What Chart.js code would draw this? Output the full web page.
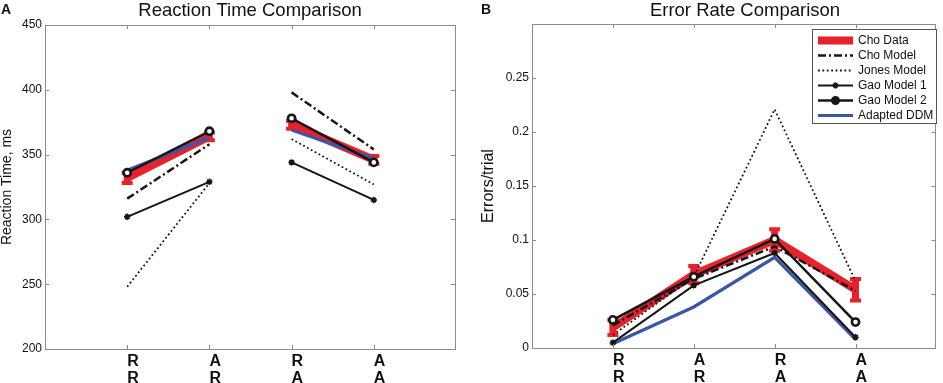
<!DOCTYPE html>
<html><head><meta charset="utf-8">
<script src="https://cdn.jsdelivr.net/npm/chart.js@4.4.1/dist/chart.umd.min.js"></script>
<style>
html,body{margin:0;padding:0;background:#fff;}
#wrap{position:relative;width:943px;height:383px;overflow:hidden;}
#cA{position:absolute;left:0;top:0;}
#cB{position:absolute;left:470px;top:0;}
</style></head><body>
<div id="wrap"><canvas id="cA" width="470" height="383"></canvas><canvas id="cB" width="473" height="383"></canvas></div>
<script>
// ---- data ----
const categories = ['RR', 'AR', 'RA', 'AA'];
const seriesNames = ['Cho Data', 'Cho Model', 'Jones Model', 'Gao Model 1', 'Gao Model 2', 'Adapted DDM'];

// Panel A: reaction time (ms)
const rtChoData    = [332, 364, 373, 346];
const rtChoDataErr = [4, 3, 3, 3];
const rtChoModel   = [316, 358, 398, 354];
const rtJones      = [248, 328, 362, 327];
const rtGao1       = [302, 329, 344, 315];
const rtGao2       = [336, 368, 378, 344];
const rtDDM        = [338, 363, 369, 347];
const rtTicks      = [200, 250, 300, 350, 400, 450];

// Panel B: error rate (errors/trial)
const erChoData    = [0.019, 0.068, 0.100, 0.054];
const erChoDataErr = [0.007, 0.008, 0.010, 0.010];
const erChoModel   = [0.021, 0.064, 0.094, 0.053];
const erJones      = [0.012, 0.066, 0.221, 0.062];
const erGao1       = [0.005, 0.058, 0.088, 0.010];
const erGao2       = [0.026, 0.066, 0.101, 0.024];
const erDDM        = [0.004, 0.038, 0.084, 0.008];
const erTicks      = [0, 0.05, 0.1, 0.15, 0.2, 0.25];

// ---- styling ----
const RED = '#e8212b', BLUE = '#3b56a6', BLK = '#161616', AXC = '#8c8c8c';
const FONT = "'Liberation Sans', Arial, Helvetica, sans-serif";
Chart.defaults.font.family = FONT;
Chart.defaults.color = '#111';

function pts(arr) { return arr.map((v, i) => ({ x: i + 1, y: v })); }

function makeDatasets(series, gap) {
  const seg = gap ? { borderColor: c => (c.p0DataIndex === 1 ? 'rgba(0,0,0,0)' : undefined) } : undefined;
  const base = { fill: false, tension: 0, segment: seg, borderCapStyle: 'butt', borderJoinStyle: 'miter' };
  return [
    Object.assign({}, base, { label: seriesNames[0], data: pts(series[0]), borderColor: RED, borderWidth: 8, pointRadius: 0, order: 6 }),
    Object.assign({}, base, { label: seriesNames[1], data: pts(series[1]), borderColor: BLK, borderWidth: 2.5, borderDash: [8, 3, 2, 3], pointRadius: 0, order: 2 }),
    Object.assign({}, base, { label: seriesNames[2], data: pts(series[2]), borderColor: BLK, borderWidth: 1.8, borderDash: [1.8, 2.6], pointRadius: 0, order: 5 }),
    Object.assign({}, base, { label: seriesNames[3], data: pts(series[3]), borderColor: BLK, borderWidth: 2, pointStyle: 'star', pointRadius: 3.2, pointBorderWidth: 1.6, pointBorderColor: BLK, pointBackgroundColor: BLK, order: 3 }),
    Object.assign({}, base, { label: seriesNames[4], data: pts(series[4]), borderColor: BLK, borderWidth: 2.5, pointStyle: 'circle', pointRadius: 3.6, pointBorderWidth: 2.6, pointBorderColor: BLK, pointBackgroundColor: '#fff', order: 1 }),
    Object.assign({}, base, { label: seriesNames[5], data: pts(series[5]), borderColor: BLUE, borderWidth: 3.2, pointRadius: 0, order: 4 })
  ];
}

const deco = {
  id: 'deco',
  beforeDatasetsDraw(chart, args, o) {
    const ctx = chart.ctx, xs = chart.scales.x, ys = chart.scales.y;
    const ds = chart.data.datasets[0];
    ctx.save();
    ctx.strokeStyle = RED;
    ds.data.forEach((p, i) => {
      const x = xs.getPixelForValue(p.x);
      const y1 = ys.getPixelForValue(p.y - o.err[i]);
      const y2 = ys.getPixelForValue(p.y + o.err[i]);
      ctx.lineWidth = 7;
      ctx.beginPath(); ctx.moveTo(x, y1); ctx.lineTo(x, y2); ctx.stroke();
      ctx.lineWidth = 4;
      ctx.beginPath();
      ctx.moveTo(x - 5.5, y1); ctx.lineTo(x + 5.5, y1);
      ctx.moveTo(x - 5.5, y2); ctx.lineTo(x + 5.5, y2);
      ctx.stroke();
    });
    ctx.restore();
  },
  afterDraw(chart, args, o) {
    const ctx = chart.ctx, a = chart.chartArea, xs = chart.scales.x, ys = chart.scales.y;
    ctx.save();
    // axes box
    ctx.strokeStyle = AXC; ctx.lineWidth = 1;
    ctx.strokeRect(Math.round(a.left) + 0.5, Math.round(a.top) + 0.5, Math.round(a.right - a.left) - 1, Math.round(a.bottom - a.top));
    // inward ticks
    const L = 4;
    ctx.beginPath();
    xs.ticks.forEach(t => {
      const x = Math.round(xs.getPixelForValue(t.value)) + 0.5;
      ctx.moveTo(x, a.bottom); ctx.lineTo(x, a.bottom - L);
      ctx.moveTo(x, a.top); ctx.lineTo(x, a.top + L);
    });
    ys.ticks.forEach(t => {
      const y = Math.round(ys.getPixelForValue(t.value)) + 0.5;
      ctx.moveTo(a.left, y); ctx.lineTo(a.left + L, y);
      ctx.moveTo(a.right - 1, y); ctx.lineTo(a.right - 1 - L, y);
    });
    ctx.stroke();
    // title and panel letter
    ctx.fillStyle = '#111';
    ctx.textBaseline = 'alphabetic';
    ctx.font = '18.5px ' + FONT; ctx.textAlign = 'center';
    ctx.fillText(o.title, o.titleX, 16);
    ctx.font = 'bold 14px ' + FONT; ctx.textAlign = 'left';
    ctx.fillText(o.letter, o.letterX, 14);
    // legend
    if (o.legend) {
      const bx = 342.5, by = 29.5, bw = 124, bh = 94;
      ctx.fillStyle = '#fff'; ctx.fillRect(bx, by, bw, bh);
      ctx.strokeStyle = '#555'; ctx.lineWidth = 1; ctx.strokeRect(bx, by, bw, bh);
      chart.data.datasets.forEach((d, i) => {
        const y = 40.5 + 15 * i, x0 = 348, x1 = 383;
        ctx.save();
        ctx.strokeStyle = d.borderColor;
        ctx.lineWidth = i === 0 ? 8 : d.borderWidth;
        ctx.setLineDash(d.borderDash || []);
        ctx.lineCap = 'butt';
        ctx.beginPath(); ctx.moveTo(x0, y); ctx.lineTo(x1, y); ctx.stroke();
        ctx.setLineDash([]);
        if (d.pointRadius > 0) {
          ctx.fillStyle = BLK; ctx.strokeStyle = BLK;
          Chart.helpers.drawPoint(ctx, {
            pointStyle: d.pointStyle, radius: d.pointRadius * 0.9, borderWidth: d.pointBorderWidth, rotation: 0
          }, (x0 + x1) / 2, y);
        }
        ctx.restore();
        ctx.fillStyle = '#111';
        ctx.font = '12px ' + FONT; ctx.textAlign = 'left'; ctx.textBaseline = 'middle';
        ctx.fillText(d.label, 388, y + 0.5);
      });
    }
    ctx.restore();
  }
};

function makeChart(id, series, gap, yMin, yMax, yTicks, yTitle, yTitleSize, yTitlePad, yWidth, xHeight, padRight, padTop, decoOpts, fmt) {
  return new Chart(document.getElementById(id), {
    type: 'line',
    data: { datasets: makeDatasets(series, gap) },
    options: {
      responsive: false, animation: false, devicePixelRatio: 1,
      layout: { padding: { left: 0, right: padRight, top: padTop, bottom: 0 } },
      plugins: { legend: { display: false }, tooltip: { enabled: false }, title: { display: false }, deco: decoOpts },
      scales: {
        x: {
          type: 'linear', min: 0, max: 5,
          grid: { display: false, drawTicks: false }, border: { display: false },
          afterBuildTicks: s => { s.ticks = categories.map((c, i) => ({ value: i + 1 })); },
          afterFit: s => { s.height = xHeight; },
          ticks: { autoSkip: false, maxRotation: 0, padding: 4, color: '#111', align: 'start',
                   font: { size: 16, weight: 'bold', lineHeight: 1.05 },
                   callback: v => (categories[v - 1] ? categories[v - 1].split('') : '') }
        },
        y: {
          type: 'linear', min: yMin, max: yMax,
          grid: { display: false, drawTicks: false }, border: { display: false },
          afterBuildTicks: s => { s.ticks = yTicks.map(v => ({ value: v })); },
          afterFit: s => { s.width = yWidth; },
          ticks: { padding: 3, color: '#111', font: { size: 12 }, callback: fmt },
          title: { display: true, text: yTitle, color: '#111', font: { size: yTitleSize, lineHeight: 1 }, padding: { top: yTitlePad, bottom: 0 } }
        }
      }
    },
    plugins: [deco]
  });
}

makeChart('cA', [rtChoData, rtChoModel, rtJones, rtGao1, rtGao2, rtDDM], true,
  200, 450, rtTicks, 'Reaction Time, ms', 14, 0, 45, 34, 14, 25,
  { err: rtChoDataErr, title: 'Reaction Time Comparison', titleX: 250, letter: 'A', letterX: 1, legend: false },
  v => String(v));

makeChart('cB', [erChoData, erChoModel, erJones, erGao1, erGao2, erDDM], false,
  0, 0.3, erTicks, 'Errors/trial', 16, 11, 62, 35, 1, 24,
  { err: erChoDataErr, title: 'Error Rate Comparison', titleX: 275, letter: 'B', letterX: 11, legend: true },
  v => String(+v.toFixed(2)));
</script>
</body></html>
